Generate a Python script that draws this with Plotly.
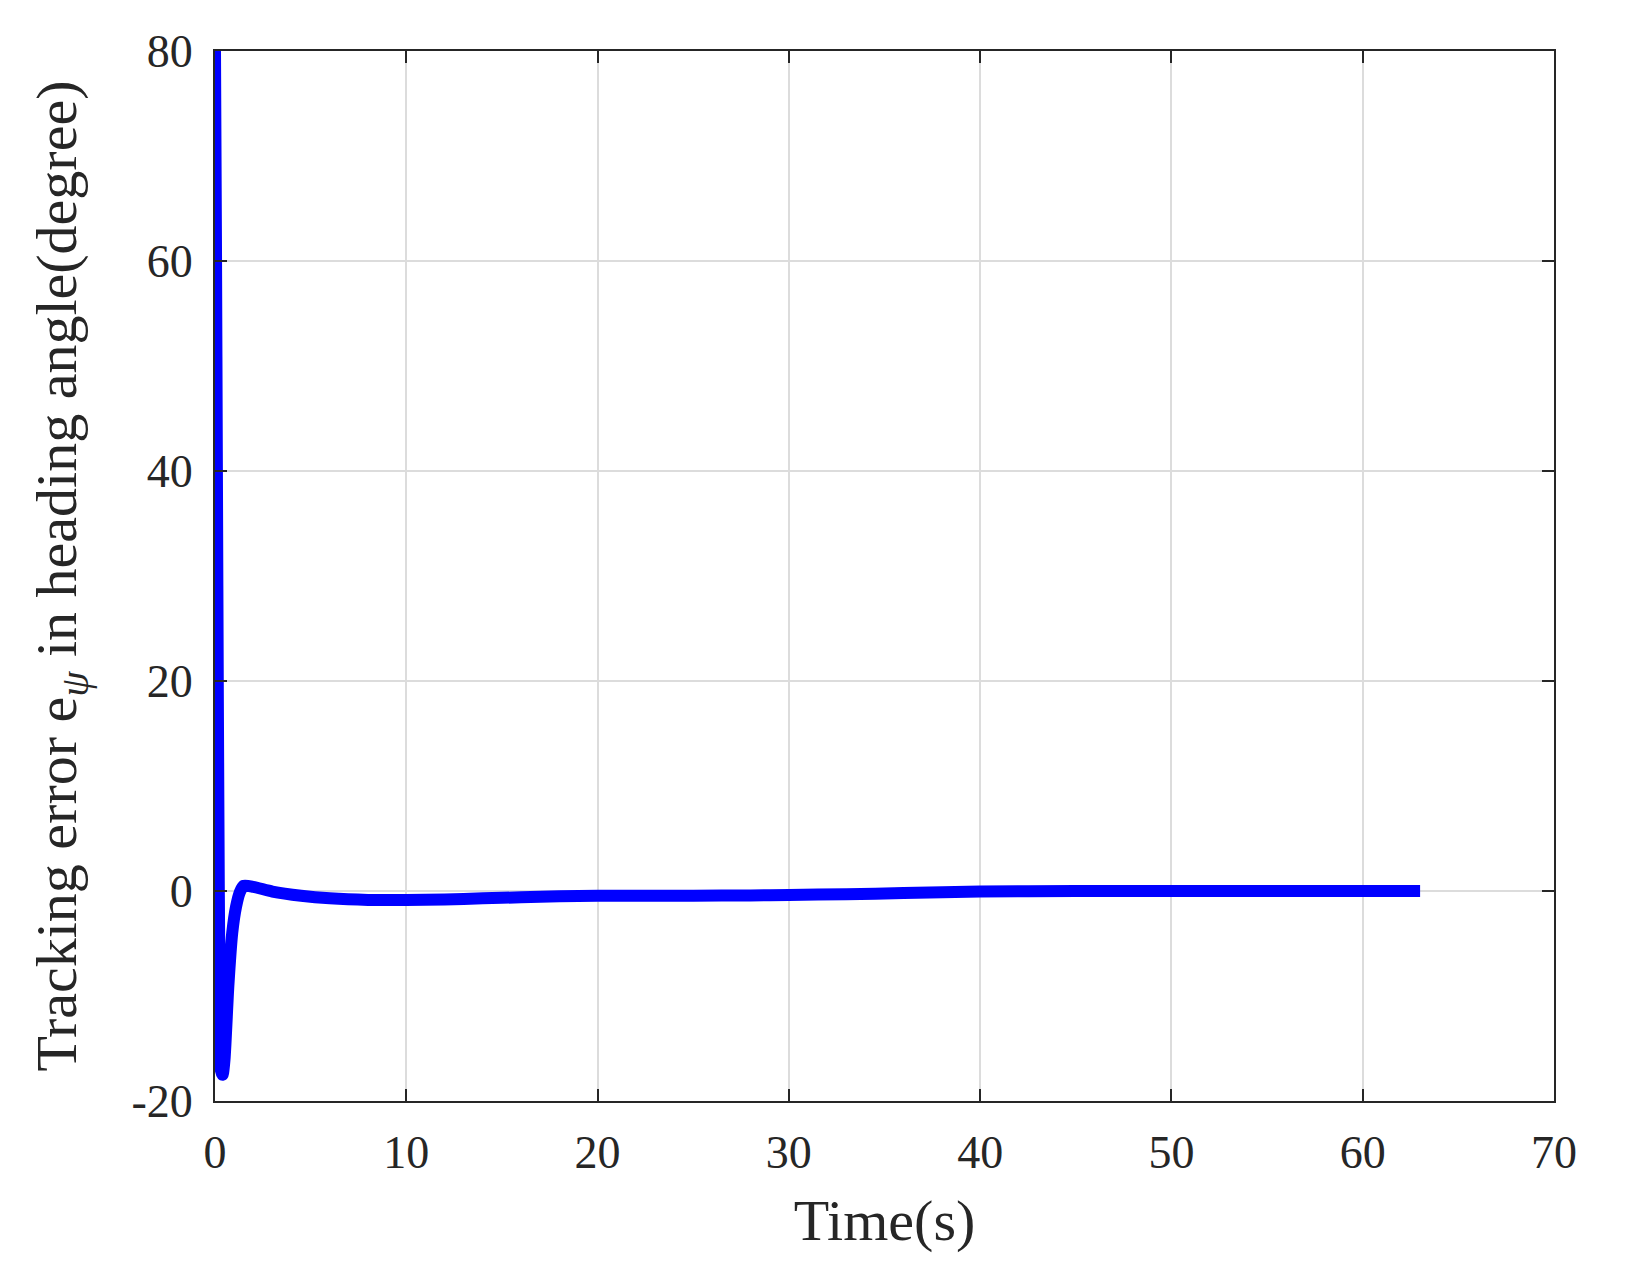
import plotly.graph_objects as go

# Time samples (s) and tracking error in heading angle (degree)
time_s = [0, 0.05, 0.1, 0.15, 0.2, 0.25, 0.3, 0.4, 0.5, 0.7, 0.9, 1.1, 1.3, 1.5, 2, 3, 4.5, 6, 8, 10,
          12, 14, 16, 18, 20, 22, 25, 28, 30, 33, 36, 40, 45, 50, 55, 60, 63]
error_deg = [80, 62, 40, 18, 0, -12, -17, -17.5, -16, -9, -4, -1.5, -0.1, 0.5, 0.4, -0.05, -0.45, -0.7,
             -0.85, -0.85, -0.8, -0.7, -0.6, -0.5, -0.45, -0.45, -0.45, -0.42, -0.38, -0.3, -0.2,
             -0.05, 0, 0, 0, 0, 0]

x_ticks = [0, 10, 20, 30, 40, 50, 60, 70]
y_ticks = [-20, 0, 20, 40, 60, 80]

FONT = "Liberation Serif, Times New Roman, serif"
TXT = "#262626"

fig = go.Figure()
fig.add_trace(go.Scatter(
    x=time_s, y=error_deg, mode="lines",
    line=dict(color="#0000ff", width=12, shape="spline", smoothing=0.6),
    cliponaxis=False,
    showlegend=False,
))

axis_common = dict(
    showline=True, linecolor=TXT, linewidth=2, mirror="ticks",
    ticks="inside", ticklen=12, tickwidth=2, tickcolor=TXT,
    showgrid=True, gridcolor="#dcdcdc", gridwidth=1.5,
    zeroline=False,
    tickfont=dict(family=FONT, size=46, color=TXT),
)

fig.update_xaxes(
    range=[0, 70], tickvals=x_ticks, ticktext=[str(v) for v in x_ticks],
    title=dict(text="Time(s)", font=dict(family=FONT, size=58, color=TXT), standoff=22),
    ticklabelstandoff=10,
    **axis_common,
)
fig.update_yaxes(
    range=[-20, 80], tickvals=y_ticks, ticktext=[str(v) for v in y_ticks],
    title=dict(text="Tracking error e<sub><i>ψ</i></sub> in heading angle(degree)",
               font=dict(family=FONT, size=58, color=TXT), standoff=36),
    ticklabelstandoff=11,
    **axis_common,
)

fig.update_layout(
    width=1637, height=1280,
    margin=dict(l=207, r=91, t=43, b=187),
    paper_bgcolor="white", plot_bgcolor="white",
)

fig.write_html("out.html")
